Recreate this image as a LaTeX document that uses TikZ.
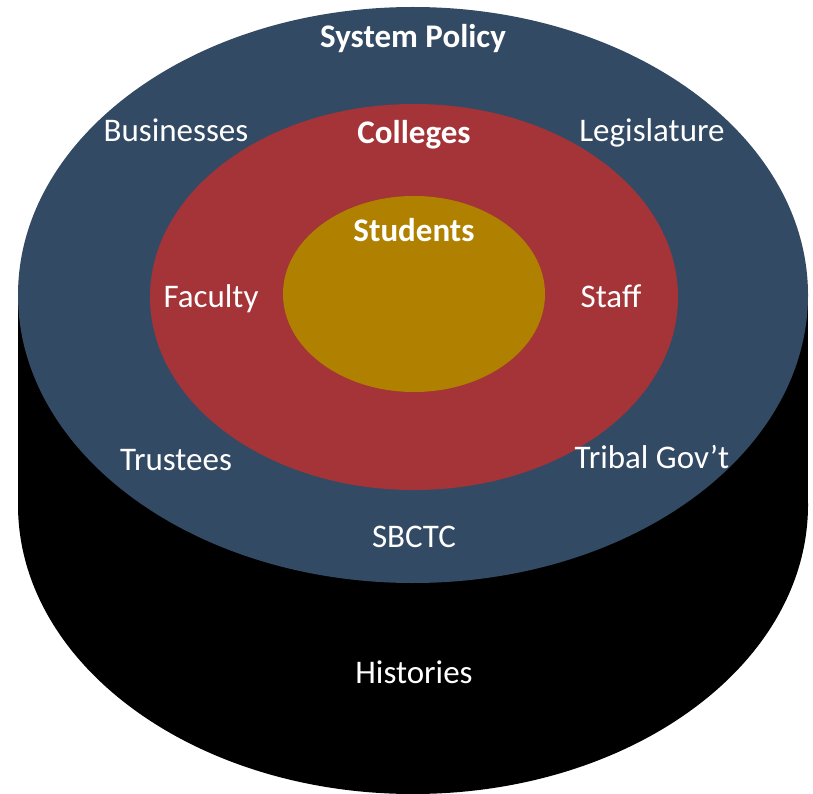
\documentclass[tikz,border=0pt]{standalone}
\usepackage{fontspec}
\setmainfont{Carlito}
\definecolor{polblue}{HTML}{334A64}
\definecolor{colred}{HTML}{A43437}
\definecolor{stugold}{HTML}{B08000}
\begin{document}
\begin{tikzpicture}[x=1pt,y=-1pt,
  lbl/.style={text=white,font=\fontsize{33}{38}\selectfont,inner sep=0pt,anchor=base},
  blbl/.style={lbl,font=\fontsize{33}{38}\selectfont\bfseries}]
\useasboundingbox (0,0) rectangle (813,794);
% cylinder body
\fill[black] (18,295) rectangle (808,505);
\fill[black] (413,505) ellipse [x radius=395, y radius=289];
% top face
\fill[polblue] (413,295) ellipse [x radius=395, y radius=288];
\fill[colred] (414,297) ellipse [x radius=264, y radius=193];
\fill[stugold] (414,294) ellipse [x radius=131, y radius=98];
% labels
\node[blbl] (policy) at (413,48) {System Policy};
\node[lbl] (bus) at (176,142) {Businesses};
\node[lbl] (leg) at (652,142) {Legislature};
\node[blbl] (col) at (414,144) {Colleges};
\node[blbl] (stu) at (414,242) {Students};
\node[lbl] (fac) at (211,307) {Faculty};
\node[lbl] (staff) at (611,307) {Staff};
\node[lbl] (tru) at (176,470) {Trustees};
\node[lbl] (tribal) at (652,468) {Tribal Gov’t};
\node[lbl] (sbctc) at (414,547) {SBCTC};
\node[lbl] (hist) at (414,683) {Histories};
\end{tikzpicture}
\end{document}
